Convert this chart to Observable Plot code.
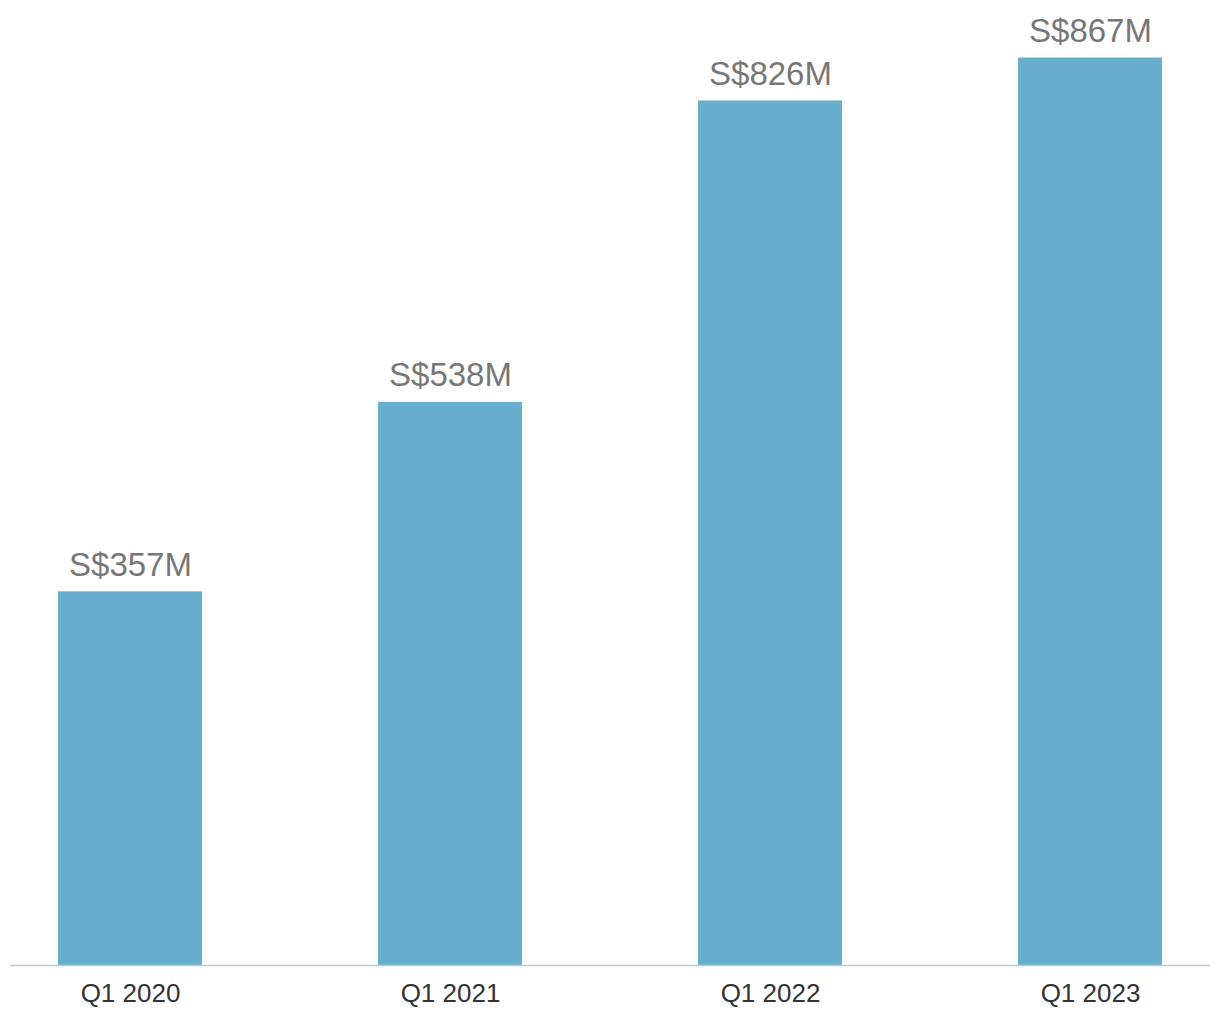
<!DOCTYPE html>
<html>
<head>
<meta charset="utf-8">
<script src="https://cdn.jsdelivr.net/npm/d3@7"></script>
<script src="https://cdn.jsdelivr.net/npm/@observablehq/plot@0.6"></script>
<style>
  html, body { margin: 0; padding: 0; background: #fff; }
  #chart { width: 1220px; height: 1020px; }
</style>
</head>
<body>
<div id="chart"></div>
<script>
const quarters = ["Q1 2020", "Q1 2021", "Q1 2022", "Q1 2023"];
const values = [357, 538, 826, 867];
const valueLabels = ["S$357M", "S$538M", "S$826M", "S$867M"];

const data = quarters.map((q, i) => ({ q, v: values[i], label: valueLabels[i] }));

const chart = Plot.plot({
  width: 1220,
  height: 1020,
  marginLeft: 10,
  marginRight: 10,
  marginTop: 23,
  marginBottom: 55,
  style: { fontFamily: "'Liberation Sans', Arial, Helvetica, sans-serif", background: "#fff" },
  x: { domain: quarters, paddingInner: 0.55, paddingOuter: 0.15, label: null },
  y: { domain: [0, 900], axis: null },
  marks: [
    Plot.barY(data, { x: "q", y: "v", fill: "#67afcd" }),
    Plot.ruleY([0], { stroke: "#c8c8c8", strokeWidth: 1.5 }),
    Plot.text(data, { x: "q", y: "v", text: "label", lineAnchor: "bottom", dy: -16, fontSize: 33, fill: "#777777" }),
    Plot.axisX({ tickSize: 0, tickPadding: 18, fontSize: 26, color: "#333333", label: null })
  ]
});
document.getElementById("chart").appendChild(chart);
</script>
</body>
</html>
